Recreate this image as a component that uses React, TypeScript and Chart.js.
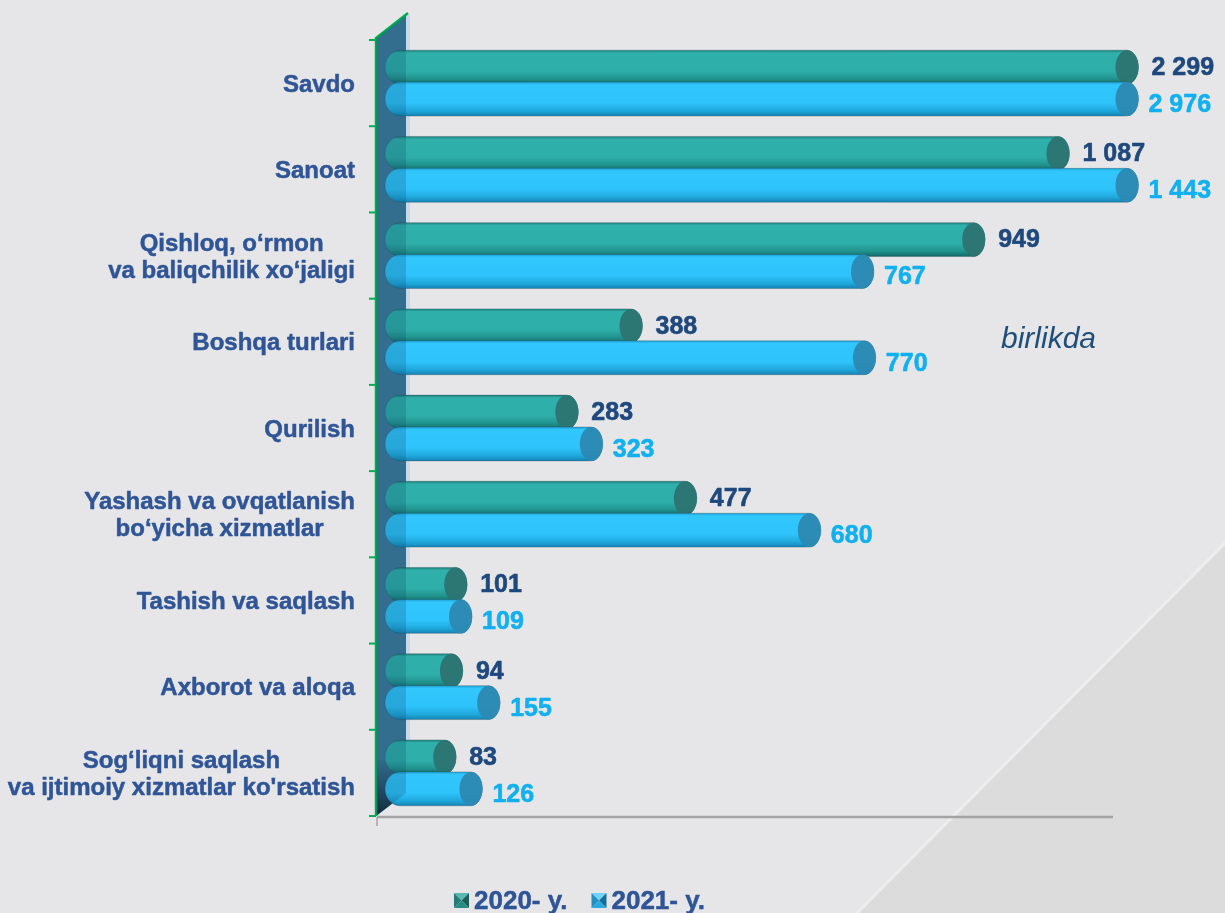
import React, { useEffect, useRef } from "react";
import { Chart, registerables } from "chart.js";

Chart.register(...registerables);

// ---------- data ----------
const categories: (string | string[])[] = [
  "Savdo",
  "Sanoat",
  ["Qishloq, o‘rmon", "va baliqchilik xo‘jaligi"],
  "Boshqa turlari",
  "Qurilish",
  ["Yashash va ovqatlanish", "bo‘yicha xizmatlar"],
  "Tashish va saqlash",
  "Axborot va aloqa",
  ["Sog‘liqni saqlash", "va ijtimoiy xizmatlar ko'rsatish"],
];
const values2020 = [2299, 1087, 949, 388, 283, 477, 101, 94, 83];
const values2021 = [2976, 1443, 767, 770, 323, 680, 109, 155, 126];
const seriesLabels = ["2020- y.", "2021- y."];
const axisMax = 1200;
const unitNote = "birlikda";

// ---------- styling ----------
const W = 1225;
const H = 913;
const FONT = 'Arial, "Liberation Sans", Helvetica, sans-serif';
const LABEL_COLOR = "#2f5597";
const VALUE_COLORS = ["#1f497d", "#11b0f0"];

type BarStyle = {
  stops: [number, string][];
  cap: string;
  legend: { base: string; light: string; dark: string; mid: string };
};
const barStyles: BarStyle[] = [
  {
    stops: [
      [0, "#1d807c"],
      [0.08, "#2fb0aa"],
      [0.62, "#2eaea8"],
      [0.84, "#21938e"],
      [1, "#126966"],
    ],
    cap: "rgba(44,116,113,0.95)",
    legend: { base: "#2a8a86", light: "#5ab7b1", dark: "#1b5f5c", mid: "#247a76" },
  },
  {
    stops: [
      [0, "#20a2d6"],
      [0.08, "#31c6fc"],
      [0.62, "#2ec3fa"],
      [0.85, "#1fa8dc"],
      [1, "#1583b3"],
    ],
    cap: "rgba(44,137,178,0.95)",
    legend: { base: "#2aa8e0", light: "#6fd3fb", dark: "#176f99", mid: "#2290c0" },
  },
];

const fmt = (v: number) => String(v).replace(/\B(?=(\d{3})+(?!\d))/g, " ");

const heavyText = (ctx: CanvasRenderingContext2D, t: string, x: number, y: number, col: string, w = 0.6) => {
  ctx.fillStyle = col;
  ctx.strokeStyle = col;
  ctx.lineWidth = w;
  ctx.lineJoin = "round";
  ctx.fillText(t, x, y);
  ctx.strokeText(t, x, y);
};

const decorPlugin = {
  id: "decor",
  beforeDraw(chart: any) {
    const { ctx } = chart;
    ctx.save();
    ctx.fillStyle = "#e6e6e8";
    ctx.fillRect(0, 0, W, H);
    ctx.beginPath();
    ctx.moveTo(W, 543);
    ctx.lineTo(W, H);
    ctx.lineTo(857, H);
    ctx.closePath();
    ctx.fillStyle = "#dcdcdd";
    ctx.fill();
    ctx.beginPath();
    ctx.moveTo(W + 4, 539);
    ctx.lineTo(853, 917);
    ctx.strokeStyle = "rgba(240,240,241,0.8)";
    ctx.lineWidth = 3;
    ctx.stroke();
    ctx.restore();
  },
  beforeDatasetsDraw(chart: any) {
    const { ctx, chartArea: ca } = chart;
    const yScale = chart.scales.y;
    const wl = ca.left - 18;
    const wr = ca.left + 12;
    ctx.save();
    // floor line
    ctx.strokeStyle = "#a3a3a3";
    ctx.lineWidth = 2.5;
    ctx.beginPath();
    ctx.moveTo(wl + 1, ca.bottom + 1);
    ctx.lineTo(ca.right - 14, ca.bottom + 1);
    ctx.stroke();
    ctx.lineWidth = 1.5;
    ctx.beginPath();
    ctx.moveTo(wl + 1, ca.bottom + 1);
    ctx.lineTo(wl + 1, ca.bottom + 10);
    ctx.stroke();
    // wall
    ctx.beginPath();
    ctx.moveTo(wl, ca.top - 2);
    ctx.lineTo(wr, ca.top - 25);
    ctx.lineTo(wr, ca.bottom - 23);
    ctx.lineTo(wl, ca.bottom);
    ctx.closePath();
    ctx.fillStyle = "#3e7b9c";
    ctx.fill();
    // dark shade bottom
    ctx.save();
    ctx.beginPath();
    ctx.moveTo(wl, ca.bottom - 60);
    ctx.lineTo(wr, ca.bottom - 40);
    ctx.lineTo(wr, ca.bottom - 23);
    ctx.lineTo(wl, ca.bottom);
    ctx.closePath();
    const g = ctx.createLinearGradient(0, ca.bottom - 60, 0, ca.bottom);
    g.addColorStop(0, "rgba(20,40,55,0)");
    g.addColorStop(1, "rgba(15,30,40,0.9)");
    ctx.fillStyle = g;
    ctx.fill();
    ctx.restore();
    // light edge
    ctx.fillStyle = "rgba(185,212,235,0.7)";
    ctx.fillRect(wr, ca.top - 25, 4, ca.bottom - 23 - (ca.top - 25));
    // green axis
    ctx.strokeStyle = "#00b050";
    ctx.lineWidth = 2.5;
    ctx.beginPath();
    ctx.moveTo(wr + 2, ca.top - 27);
    ctx.lineTo(wl, ca.top - 2);
    ctx.lineTo(wl, ca.bottom);
    ctx.stroke();
    const n = categories.length;
    const step = (ca.bottom - ca.top) / n;
    ctx.lineWidth = 2;
    for (let i = 0; i <= n; i++) {
      const yy = i < n ? yScale.getPixelForValue(i) - step / 2 : yScale.getPixelForValue(n - 1) + step / 2;
      ctx.beginPath();
      ctx.moveTo(wl - 7, yy);
      ctx.lineTo(wl, yy);
      ctx.stroke();
    }
    ctx.restore();
  },
  afterDatasetsDraw(chart: any) {
    const { ctx, chartArea: ca } = chart;
    const yScale = chart.scales.y;
    const wl = ca.left - 18;
    const wr = ca.left + 12;
    ctx.save();
    const ends: { x: number; y: number; v: number; d: number }[] = [];
    for (let d = 0; d < 2; d++) {
      const meta = chart.getDatasetMeta(d);
      const st = barStyles[d];
      meta.data.forEach((el: any, i: number) => {
        const p = el.getProps(["x", "y", "base", "height"], true);
        const xr = Math.min(p.x, ca.right);
        const h = p.height + 2;
        const top = p.y - h / 2;
        const bot = p.y + h / 2;
        const ry = h / 2;
        const rxL = 15;
        const rxR = 11.5;
        const xl = p.base + 6;
        const g = ctx.createLinearGradient(0, top, 0, bot);
        st.stops.forEach(([o, c]) => g.addColorStop(o, c));
        ctx.beginPath();
        ctx.moveTo(xl, top);
        ctx.lineTo(xr, top);
        ctx.ellipse(xr, p.y, rxR, ry, 0, -Math.PI / 2, Math.PI / 2);
        ctx.lineTo(xl, bot);
        ctx.ellipse(xl, p.y, rxL, ry, 0, Math.PI / 2, (Math.PI * 3) / 2);
        ctx.closePath();
        ctx.fillStyle = g;
        ctx.fill();
        ctx.strokeStyle = "rgba(40,70,80,0.3)";
        ctx.lineWidth = 1;
        ctx.stroke();
        ctx.beginPath();
        ctx.ellipse(xr, p.y, rxR, ry, 0, 0, Math.PI * 2);
        ctx.fillStyle = st.cap;
        ctx.fill();
        const v = (d === 0 ? values2020 : values2021)[i];
        ends.push({ x: xr + rxR, y: p.y, v, d });
      });
    }
    // wall overlay tint on bars
    ctx.save();
    ctx.beginPath();
    ctx.moveTo(wl, ca.top - 2);
    ctx.lineTo(wr, ca.top - 25);
    ctx.lineTo(wr, ca.bottom - 23);
    ctx.lineTo(wl, ca.bottom);
    ctx.closePath();
    ctx.fillStyle = "rgba(10,60,95,0.2)";
    ctx.fill();
    ctx.restore();

    // value labels
    ctx.font = `bold 25px ${FONT}`;
    ctx.textAlign = "left";
    ctx.textBaseline = "middle";
    ends.forEach((e) => {
      heavyText(ctx, fmt(e.v), e.x + (e.d === 0 ? 13 : 10), e.y + (e.d === 0 ? 1 : 6), VALUE_COLORS[e.d]);
    });

    // category labels
    ctx.font = `bold 24px ${FONT}`;
    ctx.textAlign = "center";
    const rightEdge = ca.left - 39;
    categories.forEach((c, i) => {
      const lines = Array.isArray(c) ? c : [c];
      const maxW = Math.max(...lines.map((l) => ctx.measureText(l).width));
      const cx = rightEdge - maxW / 2;
      const yc = yScale.getPixelForValue(i) + 2;
      lines.forEach((l, j) => {
        heavyText(ctx, l, cx, yc + (j - (lines.length - 1) / 2) * 27, LABEL_COLOR, 0.5);
      });
    });

    // unit note
    ctx.font = `italic 30px ${FONT}`;
    ctx.fillStyle = "#1f4e79";
    ctx.textAlign = "left";
    ctx.textBaseline = "alphabetic";
    ctx.fillText(unitNote, 1001, 348);

    // legend
    ctx.font = `bold 26px ${FONT}`;
    let lx = 454;
    const ly = 893;
    const s = 15;
    chart.data.datasets.forEach((ds: any, d: number) => {
      const L = barStyles[d].legend;
      const cx = lx + s / 2;
      const cy = ly + s / 2;
      const tri = (pts: number[][], col: string) => {
        ctx.beginPath();
        ctx.moveTo(pts[0][0], pts[0][1]);
        for (let k = 1; k < pts.length; k++) ctx.lineTo(pts[k][0], pts[k][1]);
        ctx.closePath();
        ctx.fillStyle = col;
        ctx.fill();
      };
      tri([[lx, ly], [lx + s, ly], [cx, cy]], L.light);
      tri([[lx, ly], [lx, ly + s], [cx, cy]], L.mid);
      tri([[lx + s, ly], [lx + s, ly + s], [cx, cy]], L.dark);
      tri([[lx, ly + s], [lx + s, ly + s], [cx, cy]], L.base);
      ctx.textBaseline = "alphabetic";
      heavyText(ctx, ds.label, lx + s + 5, 909, LABEL_COLOR, 0.5);
      lx = lx + s + 5 + ctx.measureText(ds.label).width + 24;
    });
    ctx.restore();
  },
};

export default function App() {
  const ref = useRef<HTMLCanvasElement | null>(null);
  useEffect(() => {
    document.body.style.margin = "0";
    if (!ref.current) return;
    const chart = new Chart(ref.current, {
      type: "bar",
      data: {
        labels: categories.map((c) => (Array.isArray(c) ? c.join(" ") : c)),
        datasets: [
          { label: seriesLabels[0], data: values2020, backgroundColor: "rgba(0,0,0,0)", borderWidth: 0 },
          { label: seriesLabels[1], data: values2021, backgroundColor: "rgba(0,0,0,0)", borderWidth: 0 },
        ],
      },
      options: {
        indexAxis: "y",
        responsive: false,
        animation: false,
        events: [],
        layout: { padding: { left: 0, right: 98, top: 40, bottom: 97 } },
        datasets: { bar: { categoryPercentage: 0.74, barPercentage: 1 } },
        plugins: { legend: { display: false }, tooltip: { enabled: false } },
        scales: {
          x: { type: "linear", min: 0, max: axisMax, display: false },
          y: {
            type: "category",
            grid: { display: false },
            border: { display: false },
            ticks: { display: false },
            afterFit: (s: any) => {
              s.width = 394;
            },
          },
        },
      } as any,
      plugins: [decorPlugin],
    });
    return () => chart.destroy();
  }, []);
  return (
    <div style={{ width: W, height: H }}>
      <canvas ref={ref} width={W} height={H} style={{ display: "block" }} />
    </div>
  );
}
